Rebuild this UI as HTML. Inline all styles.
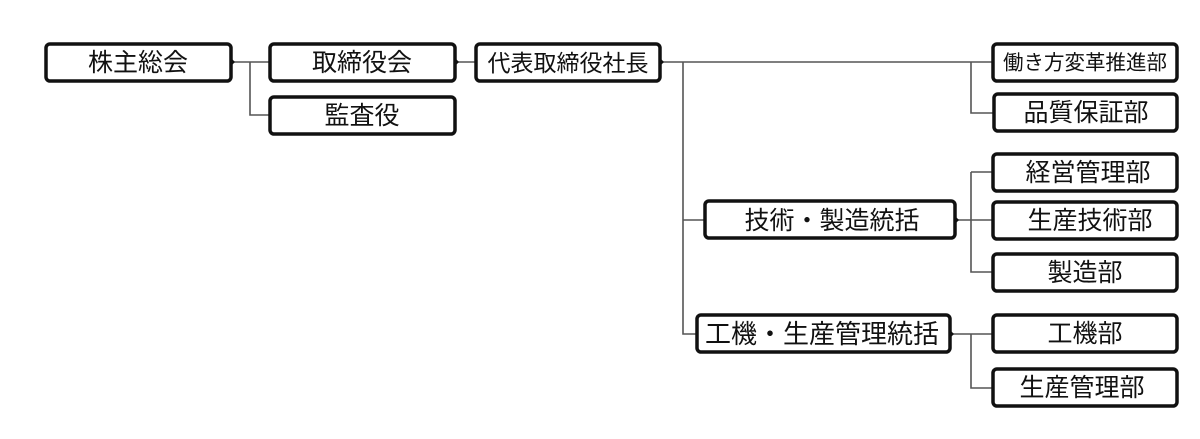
<!DOCTYPE html>
<html><head><meta charset="utf-8"><style>
html,body{margin:0;padding:0;background:#fff;}
svg{display:block;}
text{font-family:"Liberation Sans","Noto Sans CJK JP",sans-serif;fill:#111;dominant-baseline:central;text-anchor:middle;}
.b{fill:#fff;stroke:#111;stroke-width:3.5;}
.l{stroke:#555;stroke-width:1.6;fill:none;}
</style></head><body>
<svg width="1200" height="439" viewBox="0 0 1200 439">
<g class="l">
<path d="M231 62H270M250 62V115H270"/>
<path d="M455 62H476"/>
<path d="M660 62H993M683 62V334H697M683 220H705M971 62V113H993"/>
<path d="M955 220H993M971 172H993M971 172V272H993"/>
<path d="M950 334H993M971 334V388H993"/>
</g>
<g>
<rect class="b" x="46" y="44" width="185" height="37" rx="4"/>
<rect class="b" x="270" y="44" width="185" height="37" rx="4"/>
<rect class="b" x="270" y="97" width="185" height="37" rx="4"/>
<rect class="b" x="476" y="44" width="184" height="37" rx="4"/>
<rect class="b" x="993" y="44" width="184" height="37" rx="4"/>
<rect class="b" x="994" y="94" width="183" height="37" rx="4"/>
<rect class="b" x="993" y="154" width="184" height="37" rx="4"/>
<rect class="b" x="993" y="202" width="184" height="37" rx="4"/>
<rect class="b" x="993" y="254" width="184" height="37" rx="4"/>
<rect class="b" x="705" y="201" width="250" height="37" rx="4"/>
<rect class="b" x="697" y="315" width="253" height="37" rx="4"/>
<rect class="b" x="993" y="315" width="184" height="37" rx="4"/>
<rect class="b" x="993" y="369" width="184" height="37" rx="4"/>
</g>
<g fill="#111">
<path d="M231 58l4 4-4 4z"/>
<path d="M455 58l4 4-4 4z"/>
<path d="M660 58l4 4-4 4z"/>
<path d="M955 216l4 4-4 4z"/>
<path d="M950 330l4 4-4 4z"/>
</g>
<g font-size="25">
<text x="138" y="63">株主総会</text>
<text x="362" y="63">取締役会</text>
<text x="362" y="116">監査役</text>
<text x="568" y="63" font-size="23">代表取締役社長</text>
<text x="1085" y="63" font-size="20.5">働き方変革推進部</text>
<text x="1086" y="113">品質保証部</text>
<text x="1088" y="173">経営管理部</text>
<text x="1090" y="221">生産技術部</text>
<text x="1085" y="273">製造部</text>
<text x="832" y="221">技術・製造統括</text>
<text x="822" y="334" font-size="26">工機・生産管理統括</text>
<text x="1085" y="334">工機部</text>
<text x="1082" y="388">生産管理部</text>
</g>
</svg>
</body></html>
